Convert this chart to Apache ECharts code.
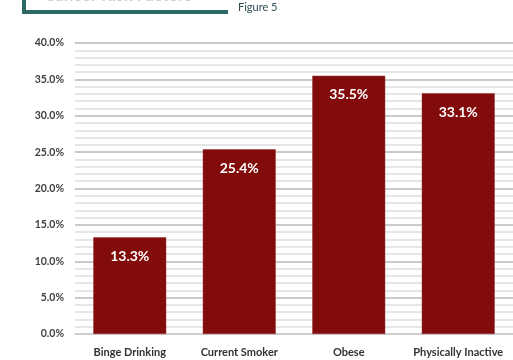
<!DOCTYPE html>
<html><head><meta charset="utf-8">
<script src="https://cdn.jsdelivr.net/npm/echarts@6/dist/echarts.min.js"></script>
<style>html,body{margin:0;padding:0;background:#fff}#c{width:513px;height:360px}</style>
</head><body><div id="c"></div>
<script>
var categories = ['Binge Drinking', 'Current Smoker', 'Obese', 'Physically Inactive'];
var values = [13.3, 25.4, 35.5, 33.1];
var yTicks = [0, 5, 10, 15, 20, 25, 30, 35, 40];
var titleText = 'Cancer Risk Factors';
var figureText = 'Figure 5';

var chart = echarts.init(document.getElementById('c'), null, {renderer: 'canvas'});
chart.setOption({
  backgroundColor: '#ffffff',
  animation: false,
  grid: {left: 75, top: 43, width: 440, bottom: 26},
  xAxis: {
    type: 'category', data: categories,
    axisLine: {show: true, lineStyle: {color: '#d0d0d0', width: 1.5}},
    axisTick: {show: false},
    axisLabel: {interval: 0, margin: 13, color: '#333333', fontFamily: 'Lato', fontWeight: 'bold', fontSize: 11}
  },
  yAxis: {
    type: 'value', min: yTicks[0], max: yTicks[yTicks.length - 1], interval: 5,
    axisLine: {show: false}, axisTick: {show: false},
    axisLabel: {margin: 11, color: '#404040', fontFamily: 'Lato', fontWeight: 'bold', fontSize: 10.5,
      formatter: function (v) { return v.toFixed(1) + '%'; }},
    splitLine: {show: true, lineStyle: {color: '#b8b8b8', width: 1.5}},
    minorTick: {show: false, splitNumber: 5},
    minorSplitLine: {show: true, lineStyle: {color: '#dedede', width: 1.5}}
  },
  series: [{
    type: 'bar', data: values, barWidth: 73,
    itemStyle: {color: '#820b0b', borderColor: '#9a3a3a', borderWidth: 0.5},
    label: {show: true, position: 'insideTop', distance: 12, color: '#ffffff',
      fontFamily: 'Lato', fontWeight: 'bold', fontSize: 14,
      formatter: function (p) { return p.value.toFixed(1) + '%'; }}
  }],
  graphic: [
    {type: 'text', left: 44, top: -13, style: {text: titleText, fill: '#cfcfcf', font: 'bold 17px Lato'}},
    {type: 'polyline', shape: {points: [[24, 0], [24, 12], [228, 12]]},
      style: {stroke: '#2d6a66', lineWidth: 4, fill: null}},
    {type: 'text', left: 238, top: 2, style: {text: figureText, fill: '#2f4b55', font: '11px Lato'}}
  ]
});
</script></body></html>
